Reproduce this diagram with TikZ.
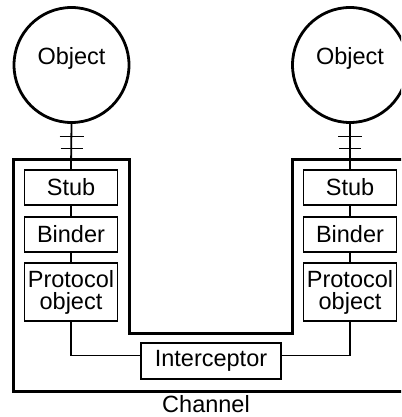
\documentclass[tikz,border=0pt]{standalone}
\usepackage{fontspec}
\setmainfont{Liberation Sans}
\usetikzlibrary{calc}
\begin{document}
\begin{tikzpicture}[x=1pt,y=-1pt,
  txt/.style={font=\fontsize{23.5}{22}\selectfont, inner sep=0pt, align=center},
  objcirc/.style={circle, draw, line width=2.8pt, minimum size=115pt, inner sep=0pt},
  part/.style={draw, line width=1.8pt, minimum width=93pt, inner sep=0pt,
    font=\fontsize{23.5}{22}\selectfont, align=center},
  wire/.style={line width=1.8pt},
  chan/.style={line width=3pt}
]
\clip (0,0) rectangle (401,417);

% the channel: a U-shaped wall round both stacks
\draw[chan] (129,159) -- (13,159) -- (13,391) -- (420,391) -- (420,159)
  -- (292,159) -- (292,333) -- (129,333) -- cycle;

% objects
\node[objcirc] (objL) at (71.5,65) {};
\node[txt] (objLtxt) at (71.5,58) {Object};
\node[objcirc] (objR) at (350,65) {};
\node[txt] (objRtxt) at (350,58) {Object};

% left stack
\node[part, minimum height=35pt] (stubL) at (71,187.5) {Stub};
\node[part, minimum height=35pt] (bindL) at (71,234.5) {Binder};
\node[part, minimum height=58pt] (protL) at (71,292) {Protocol\\object};

% right stack
\node[part, minimum height=35pt] (stubR) at (350,187.5) {Stub};
\node[part, minimum height=35pt] (bindR) at (350,234.5) {Binder};
\node[part, minimum height=58pt] (protR) at (350,292) {Protocol\\object};

% interceptor
\node[part, minimum width=140pt, minimum height=36pt] (icpt) at (211,361) {Interceptor};
\coordinate (icptL) at (141,355.5);
\coordinate (icptR) at (281,355.5);

% object-to-stub links with the break marks
\draw[wire] (objL.south) -- (stubL.north);
\draw[wire] (objR.south) -- (stubR.north);
\foreach \o in {objL,objR}{
  \coordinate (m1) at ($(\o.south)+(0,12.5)$);
  \coordinate (m2) at ($(\o.south)+(0,24.5)$);
  \draw[wire] (m1) +(-12,0) -- +(12,0);
  \draw[wire] (m2) +(-11,0) -- +(11,0);
}

% stack links
\draw[wire] (stubL.south) -- (bindL.north);
\draw[wire] (bindL.south) -- (protL.north);
\draw[wire] (stubR.south) -- (bindR.north);
\draw[wire] (bindR.south) -- (protR.north);
\draw[wire] (protL.south) |- (icptL);
\draw[wire] (protR.south) |- (icptR);

% label
\node[txt, anchor=base] (chlab) at (206,412.5) {Channel};
\end{tikzpicture}
\end{document}
